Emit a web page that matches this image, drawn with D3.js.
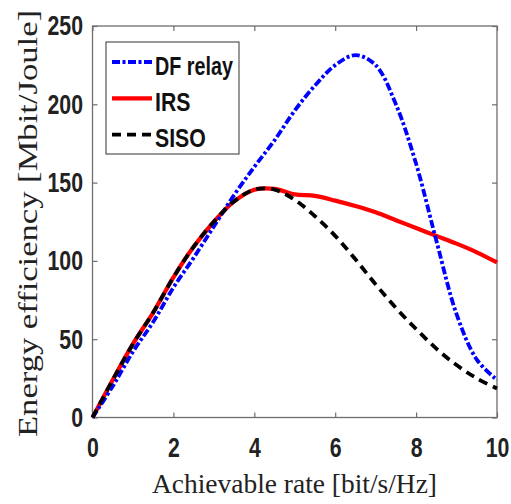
<!DOCTYPE html>
<html>
<head>
<meta charset="utf-8">
<script src="https://cdn.jsdelivr.net/npm/d3@7"></script>
<style>
  body { margin: 0; background: #fff; }
  svg { display: block; }
</style>
</head>
<body>
<svg id="chart"></svg>
<script>
// Data
const rate = [0, 0.5, 1, 1.5, 2, 2.5, 3, 3.5, 4, 4.5, 5, 5.5, 6, 6.5, 7, 7.5, 8, 8.5, 9, 9.5, 10];
const dfRelay = [0, 20, 42, 61, 83, 102, 122, 142, 160, 177, 196, 212, 225, 231.4, 225, 200, 162, 113, 66, 37, 24];
const irs = [0, 24, 47, 67, 89.5, 109, 125, 138, 145.5, 146, 142.5, 141.5, 138.5, 135, 131, 126, 121, 116, 111, 105.5, 99];
const siso = [0, 24, 47, 67, 89.5, 109, 125, 138, 145.5, 145.5, 139, 128.5, 116, 101, 85, 70, 56.5, 44, 33.5, 25, 18.5];
const xTicks = [0, 2, 4, 6, 8, 10];
const yTicks = [0, 50, 100, 150, 200, 250];
const seriesNames = ['DF relay', 'IRS', 'SISO'];

const width = 511, height = 504;
const margin = { top: 26, right: 14, bottom: 86.5, left: 92.5 };
const plotW = width - margin.left - margin.right;
const plotH = height - margin.top - margin.bottom;

const svg = d3.select('#chart')
    .attr('width', width)
    .attr('height', height);

svg.append('rect')
    .attr('width', width)
    .attr('height', height)
    .attr('fill', '#fff');

const g = svg.append('g')
    .attr('transform', `translate(${margin.left},${margin.top})`);

const x = d3.scaleLinear().domain([0, 10]).range([0, plotW]);
const y = d3.scaleLinear().domain([0, 250]).range([plotH, 0]);

// squeeze text horizontally, the reference fonts look narrow
function squeeze(sel, k) {
    sel.each(function () {
        const w = this.getComputedTextLength();
        d3.select(this)
            .attr('textLength', w * k)
            .attr('lengthAdjust', 'spacingAndGlyphs');
    });
}

const axisColor = '#6e6e6e';
const tickFont = { family: '"Liberation Sans", Arial, sans-serif', size: 28 };

// Axes
const xAxis = g.append('g')
    .attr('transform', `translate(0,${plotH})`)
    .call(d3.axisBottom(x).tickValues(xTicks).tickSize(-5).tickPadding(20).tickSizeOuter(0));
const yAxis = g.append('g')
    .call(d3.axisLeft(y).tickValues(yTicks).tickSize(-5).tickPadding(9.5).tickSizeOuter(0));

// top / right ticks
g.append('g')
    .call(d3.axisTop(x).tickValues(xTicks).tickSize(-5).tickFormat('').tickSizeOuter(0));
g.append('g')
    .attr('transform', `translate(${plotW},0)`)
    .call(d3.axisRight(y).tickValues(yTicks).tickSize(-5).tickFormat('').tickSizeOuter(0));

g.selectAll('.domain').remove();
g.selectAll('.tick line').attr('stroke', axisColor).attr('stroke-width', 1.2);

[xAxis, yAxis].forEach(ax => {
    ax.selectAll('text')
        .attr('fill', '#222')
        .attr('font-family', tickFont.family)
        .attr('font-size', tickFont.size)
        .attr('font-weight', 'bold')
        .call(squeeze, 0.76);
});

// Box
g.append('rect')
    .attr('width', plotW)
    .attr('height', plotH)
    .attr('fill', 'none')
    .attr('stroke', axisColor)
    .attr('stroke-width', 1.3);

// Lines
const line = d3.line()
    .x(d => x(d[0]))
    .y(d => y(d[1]))
    .curve(d3.curveCatmullRom.alpha(0.5));

const series = [
    { name: seriesNames[0], values: dfRelay, color: '#0000ff', dash: '8,2.5,3,2.5', width: 3.8 },
    { name: seriesNames[1], values: irs, color: '#ff0000', dash: null, width: 4.2 },
    { name: seriesNames[2], values: siso, color: '#000000', dash: '9,6', width: 3.8 }
];

const drawOrder = [1, 0, 2];
drawOrder.forEach(i => {
    const s = series[i];
    g.append('path')
        .datum(rate.map((r, j) => [r, s.values[j]]))
        .attr('fill', 'none')
        .attr('stroke', s.color)
        .attr('stroke-width', s.width)
        .attr('stroke-dasharray', s.dash)
        .attr('d', line);
});

// Legend
const legend = svg.append('g').attr('transform', 'translate(106,42)');
legend.append('rect')
    .attr('width', 133)
    .attr('height', 112)
    .attr('fill', '#fff')
    .attr('stroke', '#333')
    .attr('stroke-width', 1);

series.forEach((s, i) => {
    const ly = 20 + i * 36.3;
    legend.append('line')
        .attr('x1', 6).attr('x2', 46)
        .attr('y1', ly).attr('y2', ly)
        .attr('stroke', s.color)
        .attr('stroke-width', s.width)
        .attr('stroke-dasharray', s.dash);
    legend.append('text')
        .attr('x', 49)
        .attr('y', ly + 12.6)
        .attr('font-family', tickFont.family)
        .attr('font-size', 25)
        .attr('font-weight', 'bold')
        .attr('fill', '#111')
        .text(s.name)
        .call(squeeze, i === 0 ? 0.79 : 0.85);
});

// Axis titles
svg.append('text')
    .attr('x', 294.5)
    .attr('y', 493)
    .attr('text-anchor', 'middle')
    .attr('font-family', '"Liberation Serif", "DejaVu Serif", serif')
    .attr('font-size', 27)
    .attr('fill', '#222')
    .attr('textLength', 285)
    .attr('lengthAdjust', 'spacingAndGlyphs')
    .text('Achievable rate [bit/s/Hz]');

svg.append('text')
    .attr('transform', 'translate(37,223.5) rotate(-90)')
    .attr('text-anchor', 'middle')
    .attr('font-family', '"Liberation Serif", "DejaVu Serif", serif')
    .attr('font-size', 27)
    .attr('fill', '#222')
    .attr('textLength', 427)
    .attr('lengthAdjust', 'spacingAndGlyphs')
    .text('Energy efficiency [Mbit/Joule]');
</script>
</body>
</html>
